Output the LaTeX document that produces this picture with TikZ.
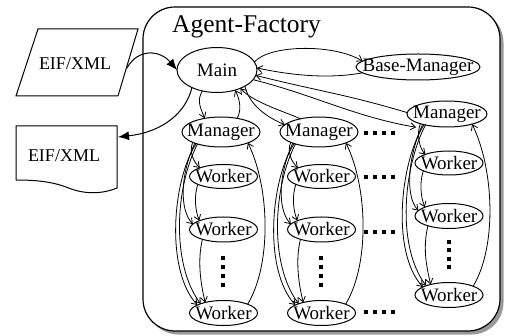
\documentclass[tikz,border=0pt]{standalone}
\usepackage{fontspec}
\setmainfont{Liberation Serif}
\usetikzlibrary{shapes.geometric,arrows.meta}
\newcommand\zw[1]{\makebox[0pt]{#1}}
\begin{document}
\begin{tikzpicture}[x=1pt,y=-1pt,
  ell/.style={draw,ellipse,line width=1pt,inner sep=0pt,outer sep=0pt,font=\fontsize{19}{21}\selectfont},
  lbl/.style={inner sep=0pt,font=\fontsize{18}{20}\selectfont},
  conn/.style={line width=0.8pt,-{Straight Barb[length=5pt,width=7pt]}},
  bigarr/.style={line width=1pt,-{Latex[length=11pt,width=9pt]}},
  shapeline/.style={line width=1pt},
  dotsq/.style={fill=black}
]
\useasboundingbox (0,0) rectangle (505,336);
% Agent-Factory frame with shadow
\fill[black!40,rounded corners=32pt] (146.5,10.5) rectangle (503.5,334.5);
\draw[line width=1.2pt,fill=white,rounded corners=32pt] (143,7) rectangle (500,331);
\node[anchor=base west,inner sep=0pt,font=\fontsize{25.5}{28}\selectfont] (title) at (172,33) {Agent-Factory};
% input parallelogram
\draw[shapeline] (38,29) -- (138,29) -- (118,96) -- (16,96) -- cycle;
\node[lbl] (in) at (75,64) {EIF/XML};
\coordinate (inR) at (127,68);
% output document
\draw[shapeline] (16,126) -- (117,126) -- (117,188) .. controls (102,194) and (85,195) .. (66,187) .. controls (50,181) and (32,180) .. (16,180) -- cycle;
\node[lbl] (out) at (64,155.5) {EIF/XML};
\coordinate (outR) at (118,137);
% main nodes
\node[ell,minimum width=80pt,minimum height=45pt] (main) at (217,70) {\zw{Main}};
\node[ell,minimum width=124pt,minimum height=26pt] (bm) at (418,67) {\zw{Base-Manager}};
% columns
\foreach \c/\mx/\my/\mw/\mh/\wx/\ya/\yb/\yc in {1/221/132/78/30/223.5/176.5/229.5/313,2/319/132/78/30/321.5/176.5/229.5/313,3/447/114/80/26/449/163/216/295}{
  \node[ell,minimum width=\mw pt,minimum height=\mh pt] (m\c) at (\mx,\my) {\zw{Manager}};
  \node[ell,minimum width=68pt,minimum height=24pt] (w\c a) at (\wx,\ya) {\zw{Worker}};
  \node[ell,minimum width=68pt,minimum height=25pt] (w\c b) at (\wx,\yb) {\zw{Worker}};
  \node[ell,minimum width=68pt,minimum height=25pt] (w\c c) at (\wx,\yc) {\zw{Worker}};
  \draw[conn] (m\c.200) .. controls +(-4,10) and +(-6,-6) .. (w\c a.160);
  \draw[conn] (m\c.203) .. controls +(-14,30) and +(-14,-15) .. (w\c b.170);
  \draw[conn] (w\c a.197) .. controls +(-4,12) and +(-4,-10) .. (w\c b.160);
  \draw[conn] (m\c.205) .. controls +(-24,37) and +(-32,-35) .. (w\c c.163);
  \draw[conn] (m\c.207) .. controls +(-22,42) and +(-30,-40) .. (w\c c.158);
  \draw[conn] (w\c b.205) .. controls +(-5,20) and +(-5,-20) .. (w\c c.150);
  \draw[conn] (w\c c.20) .. controls +(24,-40) and +(22,45) .. (m\c.338);
}
% vertical dots
\foreach \x in {223,321}{\foreach \y in {258,267,276,285}{\fill[dotsq] (\x-1.7,\y-1.7) rectangle (\x+1.7,\y+1.7);}}
\foreach \y in {242,250,259,267}{\fill[dotsq] (449-1.7,\y-1.7) rectangle (449+1.7,\y+1.7);}
% horizontal dots
\foreach \y in {133,177,232,312}{\foreach \x in {366,375,384,393}{\fill[dotsq] (\x-1.7,\y-1.7) rectangle (\x+1.7,\y+1.7);}}
% EIF arrows
\draw[bigarr] (inR) .. controls (138,48) and (160,50) .. (main.west);
\draw[bigarr] (main.215) .. controls +(-6,25) and +(45,-5) .. (outR);
% main <-> base manager
\draw[conn] (main.12) .. controls +(14,-17) and +(-30,-18) .. (bm.174);
\draw[conn] (bm.186) .. controls +(-38,7) and +(28,6) .. (main.3);
% main <-> managers
\draw[conn] (main.235) .. controls +(-6,10) and +(-4,-10) .. (m1.140);
\draw[conn] (m1.40) .. controls +(5,-10) and +(4,8) .. (main.312);
\draw[conn] (main.330) .. controls +(5,22) and +(-12,-5) .. (m2.168);
\draw[conn] (m2.145) .. controls +(-12,-6) and +(12,14) .. (main.322);
\draw[conn] (main.345) .. controls +(60,15) and +(-60,-10) .. ([yshift=-5pt]m3.195);
\draw[conn] (m3.178) .. controls +(-60,-18) and +(60,15) .. (main.352);
\end{tikzpicture}
\end{document}
